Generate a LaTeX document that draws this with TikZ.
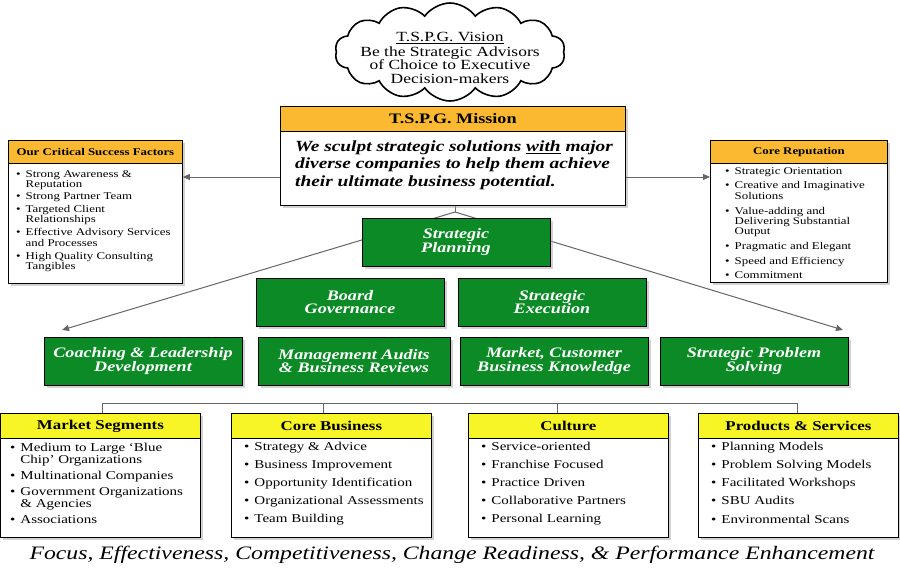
\documentclass[tikz,border=0pt]{standalone}
\usepackage{fontspec}
\setmainfont{Liberation Serif}[FakeStretch=1.25]
\usetikzlibrary{shapes.symbols,shadows,arrows.meta}
\definecolor{gr}{HTML}{0B8A26}
\definecolor{org}{HTML}{FBB931}
\definecolor{yel}{HTML}{F8F526}
\tikzset{
 box/.style={draw=black,line width=0.8pt,fill=white,drop shadow={shadow xshift=3pt,shadow yshift=-3pt,fill=gray!70}},
 gbox/.style={draw=black,line width=0.8pt,fill=gr,drop shadow={shadow xshift=3pt,shadow yshift=-3pt,fill=gray!70},text=white,font=\fontsize{14.5}{13.5}\selectfont\bfseries\itshape,align=center,minimum width=188pt,minimum height=48pt,inner sep=0pt},
 con/.style={draw=gray!80!black,line width=1pt},
 arr/.style={con,-{Triangle[length=7pt,width=6pt]}},
 hdr/.style={draw=black,line width=0.8pt,inner sep=0pt,anchor=north west},
 lst/.style={anchor=north west,inner sep=0pt,align=left}
}
\newcommand\bl{\textbullet}
\begin{document}
\begin{tikzpicture}[x=1pt,y=-1pt]
\useasboundingbox (0,0) rectangle (900,568);
% cloud
\node[cloud,draw,line width=1.6pt,fill=white,cloud puffs=14,cloud puff arc=110,aspect=2.2,minimum width=230pt,minimum height=98pt,inner sep=0pt] (cloud) at (450,52) {};
\node[align=center,font=\fontsize{14}{13.5}\selectfont] (vis) at (450,58) {\underline{T.S.P.G. Vision}\\[1pt]Be the Strategic Advisors\\of Choice to Executive\\Decision-makers};
% connectors behind
\coordinate (split) at (455,212);
\coordinate (lt) at (62,330);
\coordinate (rt) at (843,330);
\draw[con] (455,205) -- (split);
\draw[arr] (split) -- (lt);
\draw[arr] (split) -- (rt);
% mission
\node[box,minimum width=345pt,minimum height=99pt,anchor=north west,inner sep=0pt] (mis) at (280,106) {};
\node[hdr,fill=org,minimum width=345pt,minimum height=25pt,font=\fontsize{14.5}{14}\selectfont\bfseries] (mish) at (280,106) {T.S.P.G. Mission};
\node[anchor=north,align=left,font=\fontsize{15.5}{17.5}\selectfont\bfseries\itshape] (mist) at (454,137) {We sculpt strategic solutions \underline{with} major\\diverse companies to help them achieve\\their ultimate business potential.};
% CSF
\node[box,minimum width=174pt,minimum height=143pt,anchor=north west,inner sep=0pt] (csf) at (8,140) {};
\node[hdr,fill=org,minimum width=174pt,minimum height=23pt,font=\fontsize{10.3}{10}\selectfont\bfseries] (csfh) at (8,140) {Our Critical Success Factors};
\node[lst,font=\fontsize{10.3}{9}\selectfont] (csfl) at (16,170) {\begin{tabular}{@{}l@{\hspace{5pt}}p{155pt}@{}}
\bl&Strong Awareness \&\newline Reputation\\[3pt]
\bl&Strong Partner Team\\[3pt]
\bl&Targeted Client\newline Relationships\\[3pt]
\bl&Effective Advisory Services\newline and Processes\\[3pt]
\bl&High Quality Consulting\newline Tangibles\end{tabular}};
% Core reputation
\node[box,minimum width=177pt,minimum height=142pt,anchor=north west,inner sep=0pt] (cr) at (710,140) {};
\node[hdr,fill=org,minimum width=177pt,minimum height=23pt,font=\fontsize{10.3}{10}\selectfont\bfseries] (crh) at (710,140) {Core Reputation};
\node[lst,font=\fontsize{10.3}{9}\selectfont] (crl) at (725,167) {\begin{tabular}{@{}l@{\hspace{5pt}}p{150pt}@{}}
\bl&Strategic Orientation\\[5pt]
\bl&Creative and Imaginative\newline Solutions\\[5pt]
\bl&Value-adding and\newline Delivering  Substantial\newline Output\\[5pt]
\bl&Pragmatic and Elegant\\[5pt]
\bl&Speed and Efficiency\\[5pt]
\bl&Commitment\end{tabular}};
\draw[arr] (mis.west |- 0,177) -- (csf.east |- 0,177);
\draw[arr] (mis.east |- 0,177) -- (cr.west |- 0,177);
% green boxes
\node[gbox] (sp) at (456,242) {Strategic\\Planning};
\node[gbox] (bg) at (350,302) {Board\\Governance};
\node[gbox] (se) at (552,302) {Strategic\\Execution};
\node[gbox,minimum width=198pt] (cl) at (143,361) {Coaching \& Leadership\\Development};
\node[gbox,minimum width=192pt] (ma) at (354,361) {Management Audits\\\& Business Reviews};
\node[gbox] (mc) at (554,361) {Market, Customer\\Business Knowledge};
\node[gbox] (spr) at (754,361) {Strategic Problem\\Solving};
% bottom bracket
\coordinate (b1) at (102,403); \coordinate (b2) at (323,403); \coordinate (b3) at (557,403); \coordinate (b4) at (797,403);
\draw[con] (b1) -- (b4);
% bottom boxes
\foreach \n/\x/\t in {ms/0/Market Segments, cb/231/Core Business, cu/468/Culture, ps/698/Products \& Services}{
 \node[box,minimum width=200pt,minimum height=124pt,anchor=north west,inner sep=0pt] (\n) at (\x,413) {};
 \node[hdr,fill=yel,minimum width=200pt,minimum height=25pt,font=\fontsize{13.5}{13}\selectfont\bfseries] (\n h) at (\x,413) {\t};
}
\draw[con] (b1) -- (msh.north -| b1);
\draw[con] (b2) -- (cbh.north -| b2);
\draw[con] (b3) -- (cuh.north -| b3);
\draw[con] (b4) -- (psh.north -| b4);
\node[lst,font=\fontsize{12}{10}\selectfont] (msl) at (10,443) {\begin{tabular}{@{}l@{\hspace{5pt}}p{180pt}@{}}
\bl&Medium to Large `Blue\newline Chip' Organizations\\[5pt]
\bl&Multinational Companies\\[5pt]
\bl&Government Organizations\newline \& Agencies\\[5pt]
\bl&Associations\end{tabular}};
\node[lst,font=\fontsize{12}{10}\selectfont] (cbl) at (244,442) {\begin{tabular}{@{}l@{\hspace{5pt}}p{180pt}@{}}
\bl&Strategy \& Advice\\[6.8pt]
\bl&Business Improvement\\[6.8pt]
\bl&Opportunity Identification\\[6.8pt]
\bl&Organizational Assessments\\[6.8pt]
\bl&Team Building\end{tabular}};
\node[lst,font=\fontsize{12}{10}\selectfont] (cul) at (481,442) {\begin{tabular}{@{}l@{\hspace{5pt}}p{180pt}@{}}
\bl&Service-oriented\\[6.8pt]
\bl&Franchise Focused\\[6.8pt]
\bl&Practice Driven\\[6.8pt]
\bl&Collaborative Partners\\[6.8pt]
\bl&Personal Learning\end{tabular}};
\node[lst,font=\fontsize{12}{10}\selectfont] (psl) at (711,442) {\begin{tabular}{@{}l@{\hspace{5pt}}p{180pt}@{}}
\bl&Planning Models\\[6.8pt]
\bl&Problem Solving Models\\[6.8pt]
\bl&Facilitated Workshops\\[6.8pt]
\bl&SBU Audits\\[6.8pt]
\bl&Environmental Scans\end{tabular}};
\node[font=\fontsize{19}{19}\selectfont\itshape] (foot) at (452,555) {Focus, Effectiveness, Competitiveness, Change Readiness, \& Performance Enhancement};
\end{tikzpicture}
\end{document}
